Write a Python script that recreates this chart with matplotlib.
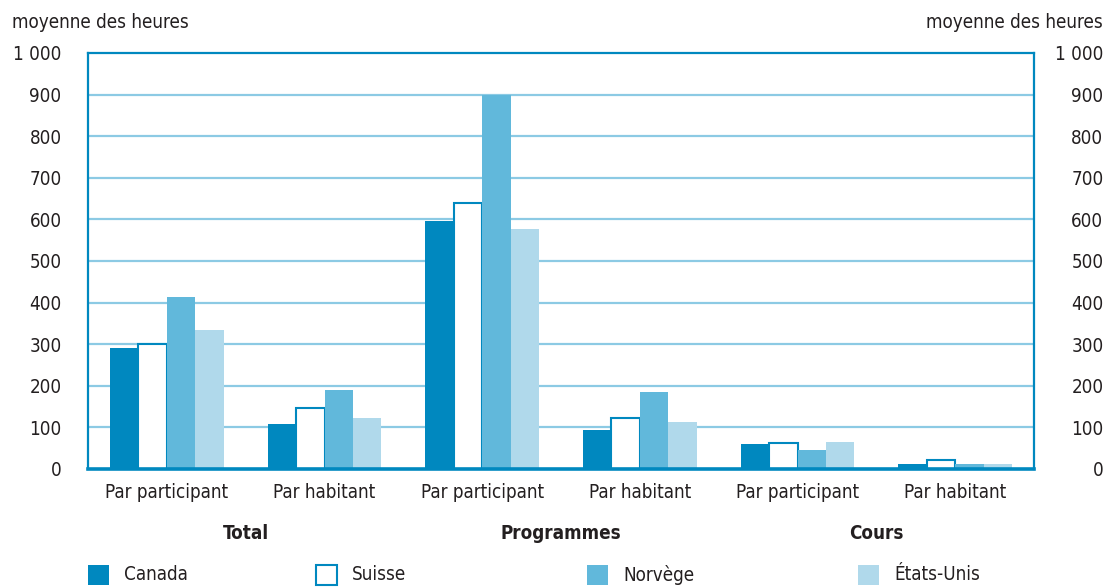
import numpy as np
import matplotlib.pyplot as plt
from matplotlib.patches import Rectangle

# Data
categories = ["Par participant", "Par habitant", "Par participant", "Par habitant", "Par participant", "Par habitant"]
groups = ["Total", "Programmes", "Cours"]
countries = ["Canada", "Suisse", "Norvège", "États-Unis"]
canada = [291, 108, 597, 94, 60, 11]
suisse = [300, 147, 640, 122, 62, 22]
norvege = [413, 190, 898, 185, 45, 12]
etats_unis = [334, 123, 577, 113, 65, 11]
yticks = [0, 100, 200, 300, 400, 500, 600, 700, 800, 900, 1000]
ytick_labels = ["0", "100", "200", "300", "400", "500", "600", "700", "800", "900", "1 000"]

dark = "#0088bf"
colors = [dark, "white", "#61b8db", "#b0d9eb"]
grid_col = "#8ccae4"

plt.rcParams['font.family'] = ['DejaVu Sans']
plt.rcParams['font.stretch'] = 'condensed'
fs = 13.5
tc = "#231f20"

fig = plt.figure(figsize=(11.1, 5.87), dpi=100)
ax = fig.add_axes([88/1110, 1 - 469/587, (1034-88)/1110, (469-53)/587])

x = np.arange(len(categories)) + 0.5
w = 0.18
series = [canada, suisse, norvege, etats_unis]
for i, vals in enumerate(series):
    pos = x + (i - 1.5) * w
    if i == 1:
        ax.bar(pos, vals, w, color="white", edgecolor=dark, linewidth=1.5, zorder=3)
    else:
        ax.bar(pos, vals, w, color=colors[i], linewidth=0, zorder=3)

ax.set_xlim(0, 6)
ax.set_ylim(0, 1000)
ax.set_yticks(yticks)
ax.set_yticklabels(ytick_labels, fontsize=fs, color=tc)
ax.tick_params(axis="y", length=0, pad=19)
ax.set_xticks(x)
ax.set_xticklabels(categories, fontsize=fs, color=tc)
ax.tick_params(axis="x", length=0, pad=10)
for yv in yticks[1:-1]:
    ax.axhline(yv, color=grid_col, linewidth=1.6, zorder=1)

for side in ["left", "right", "top"]:
    ax.spines[side].set_color(dark)
    ax.spines[side].set_linewidth(1.6)
ax.spines["bottom"].set_color(dark)
ax.spines["bottom"].set_linewidth(2.6)
ax.spines["bottom"].set_zorder(4)

ax2 = ax.twinx()
ax2.set_ylim(0, 1000)
ax2.set_yticks(yticks)
ax2.set_yticklabels(ytick_labels, fontsize=fs, color=tc, ha="right")
ax2.tick_params(axis="y", length=0, pad=50)
for s in ax2.spines.values():
    s.set_visible(False)

# group labels
for j, g in enumerate(groups):
    ax.text(2 * j + 1, -0.155, g, transform=ax.get_xaxis_transform(), ha="center", va="center",
            fontsize=fs, fontweight="bold", color=tc)

fig.text(12/1110, 1 - 22/587, "moyenne des heures", fontsize=fs, color=tc, va="center", ha="left")
fig.text(1103/1110, 1 - 22/587, "moyenne des heures", fontsize=fs, color=tc, va="center", ha="right")

# legend
leg_x = [88, 316, 587, 858]
for i, name in enumerate(countries):
    r = Rectangle((leg_x[i]/1110, 1 - 585/587), 21/1110, 20/587, transform=fig.transFigure,
                  facecolor=colors[i], edgecolor=dark if i == 1 else colors[i], linewidth=1.5 if i == 1 else 0)
    fig.patches.append(r)
    fig.text((leg_x[i] + 36)/1110, 1 - 575/587, name, fontsize=fs, color=tc, va="center", ha="left")

fig.savefig("out.png", dpi=100)
